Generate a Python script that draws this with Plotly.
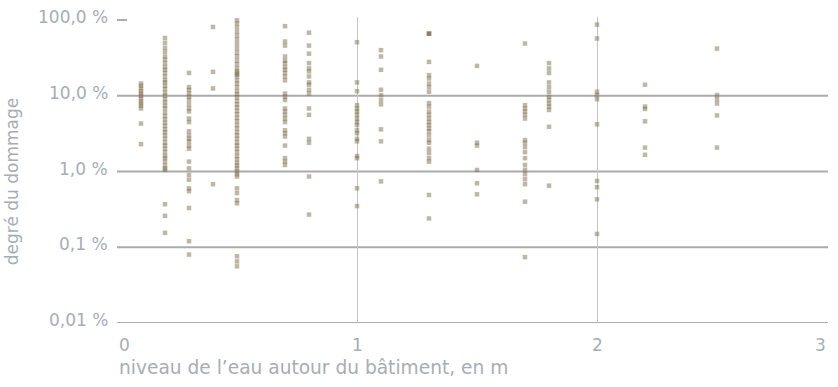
import numpy as np
import plotly.graph_objects as go

# Water depth around the building (m) for each observation column
depth_levels = [0.1, 0.2, 0.3, 0.4, 0.5, 0.7, 0.8, 1.0, 1.1, 1.3, 1.5, 1.7, 1.8, 2.0, 2.2, 2.5]

# Damage degree (%) observed at each depth
damage_0_1 = [14.5, 13.5, 12.5, 11.5, 10.7, 10, 9.2, 8.5, 7.9, 7.4, 6.8, 4.3, 2.3]
damage_0_2 = [58, 50, 43, 38, 33, 30, 27, 24, 22, 20, 18, 16, 15, 13.5, 12.3, 11, 10, 9,
              8.2, 7.4, 6.8, 6, 5.4, 4.9, 4.4, 4, 3.6, 3.3, 3, 2.7, 2.4, 2.2, 2, 1.8, 1.6,
              1.5, 1.35, 1.2, 1.1, 1.05, 0.37, 0.26, 0.155]
damage_0_3 = [20, 13, 11.9, 10.7, 9.7, 8.8, 7.7, 6.8, 6.2, 5, 4.5, 3.4, 3, 2.7, 2.5, 2.2, 2,
              1.35, 1.1, 0.9, 0.78, 0.6, 0.55, 0.33, 0.12, 0.08]
damage_0_4 = [81, 20.7, 12.5, 0.68]
damage_0_5 = [99, 90, 80, 70, 62, 55, 48, 42, 37, 33, 29, 26, 23, 21, 20, 19, 18, 16, 14.5,
              13, 11.5, 10.5, 9.5, 8.5, 7.7, 7, 6.3, 5.7, 5.1, 4.6, 4.1, 3.7, 3.3, 3, 2.7,
              2.4, 2.2, 2, 1.8, 1.6, 1.45, 1.3, 1.2, 1.1, 1.0, 0.92, 0.86, 0.6, 0.52, 0.42,
              0.38, 0.076, 0.065, 0.056]
damage_0_7 = [83, 52, 46, 33, 29, 27, 24, 22, 20, 18, 16, 10.7, 9.7, 8.8, 6.8, 6.2, 5.6, 5,
              4.5, 3.5, 3.2, 2.9, 2.2, 1.5, 1.35, 1.22]
damage_0_8 = [68, 46, 36, 27, 23, 21, 18, 15, 14, 12, 10.7, 6.8, 5.6, 2.7, 2.4, 0.86, 0.27]
damage_1_0 = [51, 15, 11.5, 7.5, 6.8, 6.2, 5.6, 5, 4.5, 4.1, 3.5, 3.2, 2.7, 2.5, 1.6, 1.5,
              0.6, 0.35]
damage_1_1 = [40, 33, 22, 12, 10.2, 8.8, 7.7, 3.6, 2.5, 0.74]
damage_1_3 = [66, 66, 66, 28, 18.7, 16.9, 14.5, 13, 11.3, 8, 7.2, 6.2, 5.6, 5, 4.5, 4.1,
              3.7, 3.4, 3, 2.6, 2.4, 2, 1.75, 1.5, 1.35, 0.49, 0.24]
damage_1_5 = [24.8, 2.4, 2.2, 1.05, 0.7, 0.5]
damage_1_7 = [49, 7.5, 6.8, 6.2, 5.6, 5, 2.6, 2.4, 2.1, 1.8, 1.5, 1.22, 1.05, 0.92, 0.79,
              0.68, 0.4, 0.074]
damage_1_8 = [27, 23, 20, 15, 13, 11.3, 9.7, 8.8, 7.9, 7.2, 6.5, 3.9, 0.65]
damage_2_0 = [87, 57, 11.3, 10.2, 9, 4.2, 0.75, 0.62, 0.43, 0.15]
damage_2_2 = [14, 7.2, 6.7, 4.6, 2.07, 1.66]
damage_2_5 = [42, 10.2, 9, 7.9, 5.5, 2.07]

damage_columns = [damage_0_1, damage_0_2, damage_0_3, damage_0_4, damage_0_5, damage_0_7,
                  damage_0_8, damage_1_0, damage_1_1, damage_1_3, damage_1_5, damage_1_7,
                  damage_1_8, damage_2_0, damage_2_2, damage_2_5]

# Axis ticks
x_ticks = [0, 1, 2, 3]
y_ticks = [100, 10, 1, 0.1, 0.01]
y_tick_labels = ["100,0 %", "10,0 %", "1,0 %", "0,1 %", "0,01 %"]
y_grid = [10, 1, 0.1, 0.01]

x_title = "niveau de l’eau autour du bâtiment, en m"
y_title = "degré du dommage"

FONT = "DejaVu Sans"
TEXT_COLOR = "#a5aeb6"
GRID_COLOR = "#ababab"

xs, ys = [], []
for depth, values in zip(depth_levels, damage_columns):
    xs.extend([depth] * len(values))
    ys.extend(values)

fig = go.Figure()
fig.add_trace(go.Scatter(
    x=xs, y=ys, mode="markers",
    marker=dict(symbol="square", size=4.5, color="rgba(125,112,72,0.5)", line=dict(width=0)),
    hoverinfo="x+y", showlegend=False,
))

X_MAX = 2.9625
shapes = []
for g in y_grid:
    shapes.append(dict(type="line", xref="x", yref="y", x0=0, x1=X_MAX, y0=g, y1=g,
                       line=dict(color=GRID_COLOR, width=2), layer="below"))
# short tick at the top of the scale
shapes.append(dict(type="line", xref="x", yref="y", x0=0, x1=0.042, y0=100, y1=100,
                   line=dict(color=GRID_COLOR, width=2), layer="below"))

annotations = []
for val, lab in zip(y_ticks, y_tick_labels):
    annotations.append(dict(x=0, xref="paper", y=np.log10(val), yref="y", text=lab,
                            showarrow=False, xanchor="right", yanchor="middle",
                            xshift=-7, yshift=3,
                            font=dict(family=FONT, size=17, color=TEXT_COLOR)))
for t in x_ticks:
    anchor = "left" if t == x_ticks[0] else ("right" if t == x_ticks[-1] else "center")
    annotations.append(dict(x=min(t, X_MAX), xref="x", y=0, yref="paper", text=str(t),
                            showarrow=False, xanchor=anchor, yanchor="top", yshift=-10,
                            font=dict(family=FONT, size=17, color=TEXT_COLOR)))
annotations.append(dict(x=0, xref="paper", y=0, yref="paper", text=x_title,
                        showarrow=False, xanchor="left", yanchor="top", yshift=-32,
                        font=dict(family=FONT, size=18.6, color=TEXT_COLOR)))
annotations.append(dict(x=0, xref="paper", y=0.46, yref="paper", text=y_title,
                        showarrow=False, xanchor="center", yanchor="middle", xshift=-105,
                        textangle=-90,
                        font=dict(family=FONT, size=17, color=TEXT_COLOR)))

fig.update_layout(
    width=838, height=387,
    margin=dict(l=117, r=10, t=17, b=64),
    paper_bgcolor="white", plot_bgcolor="white",
    xaxis=dict(range=[0, X_MAX], tickvals=[1, 2], showticklabels=False,
               showgrid=True, gridcolor="#c4c4c4", gridwidth=1, zeroline=False,
               showline=False, ticks=""),
    yaxis=dict(type="log", range=[-2, 2.04], showticklabels=False, showgrid=False,
               zeroline=False, showline=False, ticks=""),
    shapes=shapes, annotations=annotations,
)

fig.write_html("out.html")
